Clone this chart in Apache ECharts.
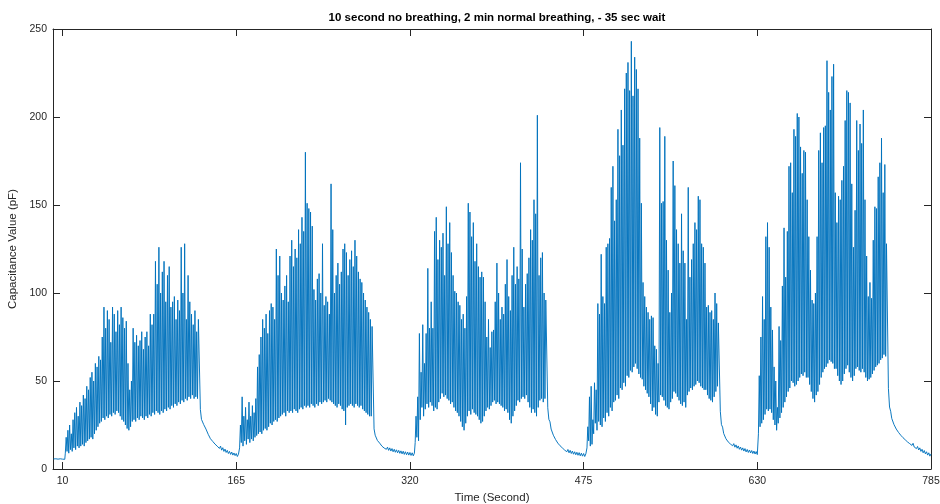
<!DOCTYPE html>
<html><head><meta charset="utf-8">
<script src="https://cdn.jsdelivr.net/npm/echarts@6/dist/echarts.min.js"></script>
<style>html,body{margin:0;padding:0;background:#fff}#c{width:940px;height:504px}</style>
</head><body><div id="c"></div>
<script>
const chartTitle = '10 second no breathing, 2 min normal breathing, - 35 sec wait';
const xName = 'Time (Second)';
const yName = 'Capacitance Value (pF)';
const xTicks = [10, 165, 320, 475, 630, 785];
const yTicks = [0, 50, 100, 150, 200, 250];

// resting baseline before first breathing block (1 s steps)
const baseStart = 2;
const baseline = [5.7, 4.6, 5.8, 4.7, 5.6, 4.8, 5.8, 4.7, 5.6, 4.8, 5.5];

// breathing blocks (seconds)
const segStart = [12.5, 168, 324.7, 478, 631];
const segEnd = [132, 287, 442, 596, 746];

const seg1Peaks = [18,22,25,20,28,32,35,30,38,36, 42,40,47,45,52,55,50,60,58,64,
  62,75,92,80,90,85,72,92,88,78, 90,82,92,86,80,84,60,45,50,80,
  72,76,70,73,78,68,75,78,70,88, 82,88,118,105,126,100,112,118,95,110,
  115,92,95,98,85,96,90,126,100,128, 85,110,95,88,82,90,78,85];
const seg1Troughs = [9,10,9,11,10,12,11,13,12,13, 14,13,15,16,17,18,17,20,22,24,
  26,27,29,28,30,29,31,30,32,31, 33,32,30,28,27,25,23,22,24,27,
  28,27,29,28,30,29,28,30,29,31, 30,32,31,33,32,31,33,32,34,33,
  35,34,36,35,37,36,38,37,39,38, 40,39,41,40,42,40,41,40];

const seg2Peaks = [25,41,30,35,28,38,30,36,32,40, 58,65,75,85,80,88,77,90,94,92,
  85,125,110,121,100,96,104,110,95,121, 130,115,125,120,136,128,143,135,180,151,
  148,146,138,102,96,108,111,100,128,93, 98,95,88,162,136,100,110,117,105,112,
  125,128,123,110,119,124,115,130,121,112, 108,106,100,96,92,89,85,81];
const seg2Troughs = [12,15,13,16,14,17,15,17,16,18, 19,20,21,20,22,23,22,24,26,25,
  27,28,27,29,30,31,32,30,33,32, 33,32,34,33,32,34,35,34,36,35,
  36,35,37,36,35,37,36,38,37,38, 39,38,40,39,38,37,36,35,37,36,
  34,33,25,35,36,37,36,35,37,36, 35,36,34,33,32,31,30,30];

const seg3Peaks = [30,41,77,55,82,60,77,114,80,95, 80,135,143,119,130,126,134,110,149,128,
  140,123,110,101,100,95,93,85,88,80, 98,151,146,132,140,118,128,115,109,112,
  109,95,75,85,69,78,79,95,117,100, 85,92,88,105,119,98,90,110,126,105,
  115,108,174,125,92,105,111,120,136,130, 153,145,201,110,120,123,100,96];
const seg3Troughs = [15,18,16,28,35,30,34,37,35,38, 36,33,35,34,38,40,43,41,42,40,
  39,37,38,35,33,32,30,27,24,22, 26,30,33,31,34,32,31,30,28,26,
  27,30,33,35,34,36,38,39,37,38, 37,36,35,33,34,32,28,26,30,33,
  36,39,38,40,41,40,42,38,35,32, 34,32,30,35,39,40,38,40];

const seg4Peaks = [24,41,47,28,49,45,94,88,122,98, 94,126,128,131,160,172,141,153,193,178,
  204,184,216,225,231,215,243,212,234,227, 216,188,151,106,98,92,89,85,87,86,
  70,68,60,194,151,152,189,130,113,89, 100,175,161,136,128,117,145,124,117,85,
  160,109,119,128,140,136,155,153,128,126, 117,92,93,89,90,85,100,94,83];
const seg4Troughs = [12,16,13,14,20,26,22,27,25,24, 29,27,32,30,35,33,38,39,42,40,
  46,45,49,47,53,52,56,55,58,60, 57,54,52,51,47,45,43,41,37,33,
  35,31,30,38,42,41,39,36,35,34, 38,40,44,43,41,39,37,36,38,35,
  42,44,46,45,47,48,50,49,47,46, 45,45,42,40,39,38,41,44,47];

const seg5Peaks = [53,75,98,85,132,140,126,92,79,58, 50,35,81,73,104,137,109,135,172,174,
  157,193,189,202,200,183,168,181,180,153, 132,113,96,94,100,132,181,191,174,194,
  195,232,214,204,223,230,157,140,155,153, 164,172,198,215,214,208,162,126,147,198,
  181,196,185,204,153,121,98,106,97,130, 149,148,166,174,188,157,173,128];
const seg5Troughs = [20,24,26,28,31,34,33,34,32,28, 25,22,26,29,32,35,38,41,44,46,
  50,49,47,48,50,52,54,53,55,52, 52,48,44,40,38,42,44,48,52,55,
  57,58,60,62,61,60,57,57,53,50, 48,50,54,57,59,55,52,50,53,57,
  58,56,55,57,55,52,50,51,52,54, 56,58,59,60,62,63,65,64];

// recovery (wait) after each block, 1 s steps
const decayStart = [133, 288, 443, 597, 747];
const decay1 = [33.8,28.2,28.3,25.2,25.3,22.7,22.8,19.7,20.3,17.2,18.3,15.7,16.3,14.2,14.8,13,13.8,11.7,13,10.7,
  12.1,10,11.3,9.4,10.6,8.8,10,8.3,9.6,7.9,9.1,7.6,8.8,7.1,8.4];
const decay2 = [22.8,19.2,19.3,16.2,16.8,14.7,15.3,13,13.8,11.9,13,11.2,12.4,10.6,12,10.2,11.6,9.8,11.2,9.5,
  10.9,9.2,10.6,8.9,10.3,8.6,10.1,8.3,9.8,8.1,9.6,7.9,9.4,7.7,9.2,7.5,9];
const decay3 = [34.8,28.2,26.8,22.7,22.3,19.2,19.3,16.7,17.3,14.7,15.6,13.2,14.3,12,13,10.8,11.8,9.8,11.1,9.2,
  10.6,8.8,10.2,8.4,9.8,8.1,9.5,7.8,9.3,7.5,9,7.3,8.8,7.1,8.6];
const decay4 = [32.8,25.2,23.8,20.2,20,17.2,17.8,15.4,16.3,14.2,15.3,13.2,14.4,12.4,13.7,11.8,13.1,11.2,12.5,10.7,
  12,10.2,11.6,9.7,11.1,9.4,10.8,9.1,10.5,8.8,10.2,8.5,9.9,8.2];
const decay5 = [45.8,35.2,32.8,28.7,28.3,25.2,25.6,22.7,23.3,20.8,21.6,19.2,20.1,17.8,18.8,16.6,17.6,15.4,16.5,14.4,
  15.5,13.4,14.6,12.5,13.6,11.6,12.8,10.8,12,10,11.2,9.2,10.5,8.6,9.8,7.9,9.2,7.3,8.6];

const peaks = [seg1Peaks, seg2Peaks, seg3Peaks, seg4Peaks, seg5Peaks];
const troughs = [seg1Troughs, seg2Troughs, seg3Troughs, seg4Troughs, seg5Troughs];
const decays = [decay1, decay2, decay3, decay4, decay5];

const data = [];
baseline.forEach((v, i) => data.push([baseStart + i, v]));
for (let s = 0; s < 5; s++) {
  const P = peaks[s], T = troughs[s];
  const n = Math.min(P.length, T.length);
  const dt = (segEnd[s] - segStart[s]) / n;
  for (let i = 0; i < n; i++) {
    data.push([segStart[s] + i * dt, T[i]]);
    data.push([segStart[s] + (i + 0.5) * dt, P[i]]);
  }
  decays[s].forEach((v, i) => data.push([decayStart[s] + i, v]));
}

const axisCol = '#262626';
const font = '"Liberation Sans", Arial, Helvetica, sans-serif';
const chart = echarts.init(document.getElementById('c'), null, {renderer: 'canvas'});
chart.setOption({
  animation: false,
  backgroundColor: '#ffffff',
  title: {
    text: chartTitle, left: 492, top: 7, textAlign: 'center',
    textStyle: {fontSize: 11.5, fontWeight: 'bold', color: '#000', fontFamily: font}
  },
  grid: {left: 53, right: 9, top: 29, bottom: 35, show: false, outerBoundsMode: 'none', containLabel: false},
  xAxis: [{
    type: 'value', min: 1.5, max: 785, position: 'bottom',
    name: xName, nameLocation: 'middle', nameGap: 22,
    nameTextStyle: {fontSize: 11.5, color: axisCol, fontFamily: font},
    axisLine: {show: true, onZero: false, lineStyle: {color: axisCol, width: 1}},
    axisTick: {show: true, inside: true, length: 7, customValues: xTicks, lineStyle: {color: axisCol}},
    axisLabel: {show: true, customValues: xTicks, fontSize: 10.5, color: axisCol, fontFamily: font, margin: 7},
    splitLine: {show: false}
  }, {
    type: 'value', min: 1.5, max: 785, position: 'top',
    axisLine: {show: true, onZero: false, lineStyle: {color: axisCol, width: 1}},
    axisTick: {show: true, inside: true, length: 7, customValues: xTicks, lineStyle: {color: axisCol}},
    axisLabel: {show: false}, splitLine: {show: false}
  }],
  yAxis: [{
    type: 'value', min: 0, max: 250, interval: 50, position: 'left',
    name: yName, nameLocation: 'middle', nameGap: 31, nameRotate: 90,
    nameTextStyle: {fontSize: 11.5, color: axisCol, fontFamily: font},
    axisLine: {show: true, onZero: false, lineStyle: {color: axisCol, width: 1}},
    axisTick: {show: true, inside: true, length: 7, lineStyle: {color: axisCol}},
    axisLabel: {show: true, fontSize: 10.5, color: axisCol, fontFamily: font, margin: 6,
      customValues: yTicks},
    splitLine: {show: false}
  }, {
    type: 'value', min: 0, max: 250, interval: 50, position: 'right',
    axisLine: {show: true, onZero: false, lineStyle: {color: axisCol, width: 1}},
    axisTick: {show: true, inside: true, length: 7, lineStyle: {color: axisCol}},
    axisLabel: {show: false}, splitLine: {show: false}
  }],
  series: [{
    type: 'line', data: data, xAxisIndex: 0, yAxisIndex: 0,
    showSymbol: false, symbol: 'none', sampling: null,
    lineStyle: {color: '#0072BD', width: 0.95},
    itemStyle: {color: '#0072BD'}
  }]
});
</script></body></html>
